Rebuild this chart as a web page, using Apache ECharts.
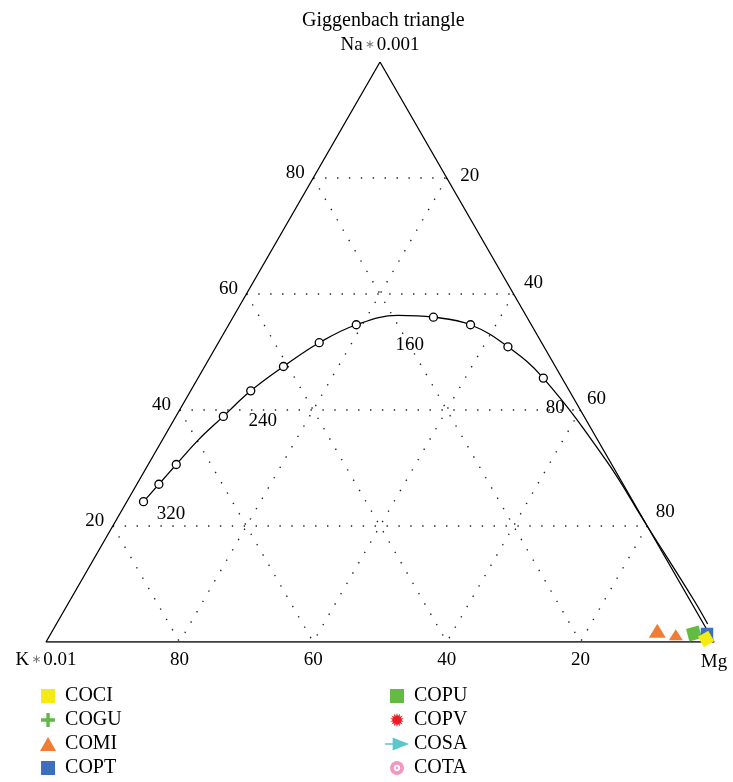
<!DOCTYPE html>
<html><head><meta charset="utf-8">
<script src="https://cdn.jsdelivr.net/npm/echarts@6/dist/echarts.min.js"></script>
<style>html,body{margin:0;padding:0;background:#fff}#c{width:733px;height:782px}</style>
</head><body><div id="c"></div>
<script>
// Ternary components: [Na*0.001, K*0.01, Mg] as fractions
// Full-equilibrium line, temperatures in °C
const eqTemps = [340,320,300,280,260,240,220,200,180,160,140,120,100,80];
const eqNa = [0.242,0.272,0.306,0.349,0.389,0.433,0.475,0.516,0.547,0.563,0.560,0.547,0.509,0.455];
const eqK  = [0.733,0.695,0.652,0.597,0.540,0.477,0.407,0.333,0.262,0.192,0.140,0.091,0.054,0.028];
const eqMg = [0.025,0.033,0.042,0.054,0.071,0.090,0.118,0.151,0.191,0.245,0.300,0.362,0.437,0.517];
// low-temperature tail of the line toward the Mg corner
const tailNa = [0.314,0.200,0.072,0.031];
const tailK  = [0.005,0.000,-0.006,-0.006];
const tailMg = [0.681,0.800,0.934,0.975];
const circleTemps = [340,320,300,260,240,220,200,180,140,120,100,80];
const labelTemps = [320,240,160,80];
// axis ticks
const naTicks = [80,60,40,20];   // left edge
const mgTicks = [20,40,60,80];   // right edge
const kTicks  = [80,60,40,20];   // bottom edge
const gridLevels = [0.2,0.4,0.6,0.8];
// samples [Na, K, Mg]
const coci = [[0.0052,0.0093,0.9855]];
const cogu = [];
const comi = [[0.0195,0.0751,0.9054],[0.0126,0.0509,0.9365]];
const copt = [[0.0138,0.0036,0.9826]];
const copu = [[0.0147,0.0226,0.9627]];
const copv = [];
const cosa = [];
const cota = [];
const legendLeft = ['COCI','COGU','COMI','COPT'];
const legendRight = ['COPU','COPV','COSA','COTA'];

function tp(na,k,mg){const s=na+k+mg;return [(mg+na/2)/s, na/s];}
const FONT = '"Liberation Serif","DejaVu Serif",serif';
const TXT = '#000';

function burstPath(n, ro, ri){
  let d='';
  for(let i=0;i<2*n;i++){
    const r = i%2===0?ro:ri, a = Math.PI*i/n;
    d += (i===0?'M':'L') + (10+r*Math.sin(a)).toFixed(2)+','+(10-r*Math.cos(a)).toFixed(2);
  }
  return 'path://'+d+'Z';
}
const icons = {
  COCI:'path://M0,0H10V10H0Z',
  COGU:'path://M3.8,0H6.2V3.8H10V6.2H6.2V10H3.8V6.2H0V3.8H3.8Z',
  COMI:'path://M5,0L10,8.7L0,8.7Z',
  COPT:'path://M0,0H10V10H0Z',
  COPU:'path://M0,0H10V10H0Z',
  COPV:burstPath(14,10,6),
  COSA:'path://M0,5.2H8V6.8H0Z M7,0L22,6L7,12Z',
  COTA:'path://M10,0A10,10,0,1,1,10,20A10,10,0,1,1,10,0Z M10,5.5A4.5,4.5,0,1,0,10,14.5A4.5,4.5,0,1,0,10,5.5Z M10,8.3A1.7,1.7,0,1,1,10,11.7A1.7,1.7,0,1,1,10,8.3Z'
};
const colors = {COCI:'#f5eb14',COGU:'#5fb944',COMI:'#f07c36',COPT:'#3a70bd',COPU:'#63bb44',COPV:'#ec1c24',COSA:'#5cc6cb',COTA:'#f497c0'};

const series = [];
// grid lines
gridLevels.forEach(v=>{
  const segs = [
    [tp(v,1-v,0), tp(v,0,1-v)],
    [tp(1-v,v,0), tp(0,v,1-v)],
    [tp(1-v,0,v), tp(0,1-v,v)]
  ];
  segs.forEach(s=>series.push({type:'line',data:s,symbol:'none',silent:true,z:1,
    lineStyle:{color:'#222',width:1.4,type:[1.4,10.5]}}));
});
// triangle frame
series.push({type:'line',data:[tp(1,0,0),tp(0,1,0),tp(0,0,1),tp(1,0,0)],symbol:'none',silent:true,z:2,
  lineStyle:{color:'#000',width:1.3}});
// equilibrium curve
const curveData = eqTemps.map((t,i)=>tp(eqNa[i],eqK[i],eqMg[i]))
  .concat(tailNa.map((n,i)=>tp(n,tailK[i],tailMg[i])));
series.push({type:'line',data:curveData,symbol:'none',smooth:0.4,silent:true,z:3,
  lineStyle:{color:'#000',width:1.3}});
// temperature circles
series.push({type:'scatter',silent:true,z:4,symbol:'circle',symbolSize:8,
  itemStyle:{color:'#fff',borderColor:'#000',borderWidth:1.3,opacity:1},
  data:circleTemps.map(t=>{const i=eqTemps.indexOf(t);return tp(eqNa[i],eqK[i],eqMg[i]);})});

const lbl = (txt, off, extra)=>Object.assign({show:true,position:'inside',formatter:txt,offset:off,
  color:TXT,opacity:1,textBorderWidth:0,fontFamily:FONT,fontSize:19},extra||{});
// temperature labels
series.push({type:'scatter',silent:true,z:4,symbolSize:1,itemStyle:{color:'rgba(255,255,255,0)'},
  data:labelTemps.map(t=>{const i=eqTemps.indexOf(t);return {value:tp(eqNa[i],eqK[i],eqMg[i]),
    label:lbl(String(t),[12,30])};})});
// tick labels
const rightOff = [[23,-2],[20,-11],[16,-11],[18,-14]];
const tickData = []
  .concat(naTicks.map(v=>({value:tp(v/100,1-v/100,0),label:lbl(String(v),[-18,-5])})))
  .concat(mgTicks.map((v,i)=>({value:tp(1-v/100,0,v/100),label:lbl(String(v),rightOff[i])})))
  .concat(kTicks.map(v=>({value:tp(0,v/100,1-v/100),label:lbl(String(v),[0,18])})));
series.push({type:'scatter',silent:true,z:4,symbolSize:1,itemStyle:{color:'rgba(255,255,255,0)'},data:tickData});
// vertex labels
const rich = {t:{color:TXT,fontFamily:FONT,fontSize:19},s:{color:'#777',fontFamily:'"DejaVu Sans"',fontSize:12,padding:[0,2,0,2]}};
series.push({type:'scatter',silent:true,z:4,symbolSize:1,itemStyle:{color:'rgba(255,255,255,0)'},
  data:[
    {value:tp(1,0,0),label:lbl('{t|Na}{s|∗}{t|0.001}',[0,-17],{rich:rich})},
    {value:tp(0,1,0),label:lbl('{t|K}{s|∗}{t|0.01}',[0,18],{rich:rich})},
    {value:tp(0,0,1),label:lbl('{t|Mg}',[0,20],{rich:rich})}
  ]});
// samples
function sampleSeries(name, pts, opts){
  return Object.assign({type:'scatter',name:name,z:5,silent:true,
    itemStyle:{color:colors[name],opacity:1},
    data:pts.map(p=>tp(p[0],p[1],p[2]))}, opts||{});
}
const comiSizes = [[17,14],[14,11]];
series.push(sampleSeries('COMI',comi,{symbol:'triangle',symbolSize:(v,p)=>comiSizes[p.dataIndex]}));
series.push(sampleSeries('COGU',cogu,{symbol:icons.COGU,symbolSize:12}));
series.push(sampleSeries('COPV',copv,{symbol:icons.COPV,symbolSize:14}));
series.push(sampleSeries('COSA',cosa,{symbol:icons.COSA,symbolSize:14}));
series.push(sampleSeries('COTA',cota,{symbol:icons.COTA,symbolSize:14}));
series.push(sampleSeries('COPU',copu,{symbol:'rect',symbolSize:13,symbolRotate:15}));
series.push(sampleSeries('COPT',copt,{symbol:'rect',symbolSize:12.5}));
series.push(sampleSeries('COCI',coci,{symbol:'rect',symbolSize:12,symbolRotate:30,z:6}));

const legendText = {color:TXT,fontFamily:FONT,fontSize:20,lineHeight:20};
const legendBase = {orient:'vertical',top:686,itemWidth:24,itemHeight:14,itemGap:4,padding:0,selectedMode:false,
  textStyle:legendText,itemStyle:{opacity:1}};
const option = {
  animation:false,
  backgroundColor:'#fff',
  title:{text:'Giggenbach triangle',left:297,top:6,textStyle:{color:TXT,fontFamily:FONT,fontSize:20,fontWeight:'normal'}},
  grid:{left:46,top:62,width:668,height:580},
  xAxis:{type:'value',min:0,max:1,show:false},
  yAxis:{type:'value',min:0,max:1,show:false},
  legend:[
    Object.assign({data:legendLeft.map(n=>({name:n,icon:icons[n]})),left:40},legendBase),
    Object.assign({data:legendRight.map(n=>({name:n,icon:icons[n]})),left:385},legendBase)
  ],
  series:series
};
const chart = echarts.init(document.getElementById('c'),null,{renderer:'canvas'});
chart.setOption(option);
</script></body></html>
